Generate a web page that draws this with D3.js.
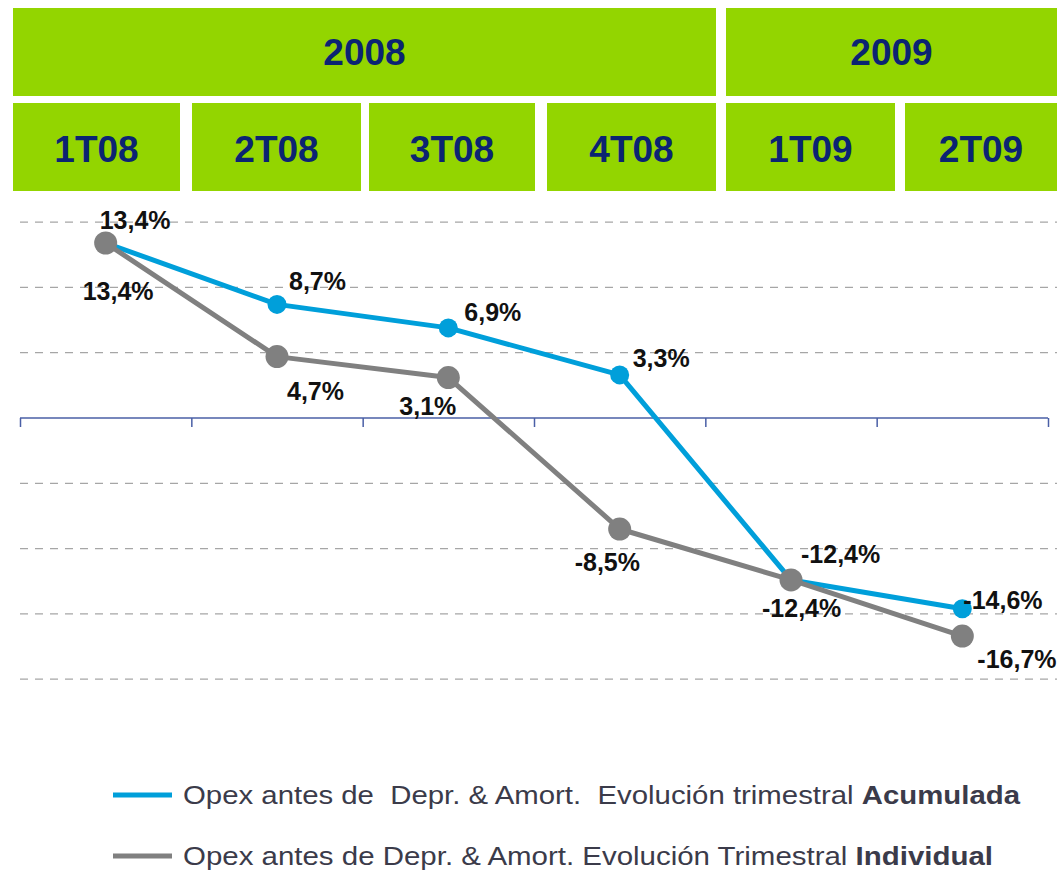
<!DOCTYPE html>
<html><head><meta charset="utf-8">
<script src="https://cdn.jsdelivr.net/npm/d3@7"></script>
<style>body{margin:0;background:#fff}svg{display:block}</style>
</head><body>
<svg id="c" width="1057" height="870"></svg>
<script>
const quarters = ["1T08","2T08","3T08","4T08","1T09","2T09"];
const years = ["2008","2009"];
const yearSpan = [4, 2];
const acumulada = [13.4, 8.7, 6.9, 3.3, -12.4, -14.6];
const individual = [13.4, 4.7, 3.1, -8.5, -12.4, -16.7];
const gridTicks = [15, 10, 5, -5, -10, -15, -20];
const legendLabels = [
  ["Opex antes de  Depr. & Amort.  Evolución trimestral ", "Acumulada"],
  ["Opex antes de Depr. & Amort. Evolución Trimestral ", "Individual"]
];

// layout (not data)
const headerEdges = [[13,180],[192,361],[369,535],[547,716],[726,895],[905,1057]];
const acuOff = [[-6,-14],[12,-14],[16,-7],[13,-8],[10,-17],[1,0]];
const indOff = [[-23,57],[10,43],[-49,37],[-45,42],[-29,37],[15,32]];
const legendWidths = [837, 810];

const svg = d3.select("#c");
const green = "#93d500", navy = "#0b2472", blue = "#009fda", gray = "#808080";
const fmt = v => d3.format(".1f")(v).replace(".", ",").replace("\u2212", "-") + "%";

// header
let qi = 0;
years.forEach((yr, i) => {
  const x0 = headerEdges[qi][0], x1 = headerEdges[qi + yearSpan[i] - 1][1];
  svg.append("rect").attr("x", x0).attr("y", 8).attr("width", x1 - x0).attr("height", 88).attr("fill", green);
  svg.append("text").attr("x", (x0 + x1) / 2).attr("y", 65).attr("text-anchor", "middle")
    .attr("font-family", "Liberation Sans, Arial, sans-serif").attr("font-weight", "bold")
    .attr("font-size", 37).attr("fill", navy).text(yr);
  qi += yearSpan[i];
});
quarters.forEach((q, i) => {
  const [x0, x1] = headerEdges[i];
  svg.append("rect").attr("x", x0).attr("y", 103).attr("width", x1 - x0).attr("height", 88).attr("fill", green);
  svg.append("text").attr("x", (x0 + x1) / 2).attr("y", 162).attr("text-anchor", "middle")
    .attr("font-family", "Liberation Sans, Arial, sans-serif").attr("font-weight", "bold")
    .attr("font-size", 37).attr("fill", navy).text(q);
});

// scales
const x = d3.scaleBand().domain(quarters).range([20, 1048]).paddingInner(0).paddingOuter(0);
const cx = d => x(d) + x.bandwidth() / 2;
const y = d3.scaleLinear().domain([0, 5]).range([418, 352.7]);

// gridlines
svg.append("g").selectAll("line").data(gridTicks).join("line")
  .attr("x1", 20).attr("x2", 1057).attr("y1", d => y(d)).attr("y2", d => y(d))
  .attr("stroke", "#a6a6a6").attr("stroke-width", 1.3).attr("stroke-dasharray", "8,7");

// axis
const ax = svg.append("g").attr("transform", `translate(0,${y(0)})`)
  .call(d3.axisBottom(d3.scalePoint().domain(d3.range(7)).range([20, 1048])).tickSize(9).tickFormat(""));
ax.selectAll("path").attr("stroke", "#4a5fa6").attr("stroke-width", 1.5).attr("d", "M20,0H1048");
ax.selectAll("line").attr("stroke", "#4a5fa6").attr("stroke-width", 1.5);

// lines
const line = d3.line().x((d, i) => cx(quarters[i])).y(d => y(d));
function drawSeries(vals, color, r) {
  svg.append("path").datum(vals).attr("d", line).attr("fill", "none")
    .attr("stroke", color).attr("stroke-width", 5).attr("stroke-linejoin", "round");
  svg.append("g").selectAll("circle").data(vals).join("circle")
    .attr("cx", (d, i) => cx(quarters[i])).attr("cy", d => y(d)).attr("r", r).attr("fill", color);
}
drawSeries(acumulada, blue, 9.5);
drawSeries(individual, gray, 11.5);

function labels(vals, off) {
  svg.append("g").selectAll("text").data(vals).join("text")
    .attr("x", (d, i) => cx(quarters[i]) + off[i][0]).attr("y", (d, i) => y(d) + off[i][1])
    .attr("font-family", "Liberation Sans, Arial, sans-serif").attr("font-weight", "bold")
    .attr("font-size", 25).attr("fill", "#111").text(d => fmt(d));
}
labels(acumulada, acuOff);
labels(individual, indOff);

// legend
const legColors = [blue, gray];
legendLabels.forEach((lab, i) => {
  const yy = 795 + i * 61;
  svg.append("line").attr("x1", 113).attr("x2", 172).attr("y1", yy).attr("y2", yy)
    .attr("stroke", legColors[i]).attr("stroke-width", 5);
  const t = svg.append("text").attr("x", 183).attr("y", yy + 8.5)
    .attr("font-family", "Liberation Sans, Arial, sans-serif").attr("font-size", 25)
    .attr("textLength", legendWidths[i]).attr("lengthAdjust", "spacingAndGlyphs")
    .attr("fill", "#3b3b4a").style("white-space", "pre");
  t.append("tspan").text(lab[0]);
  t.append("tspan").attr("font-weight", "bold").text(lab[1]);
});
</script>
</body></html>
